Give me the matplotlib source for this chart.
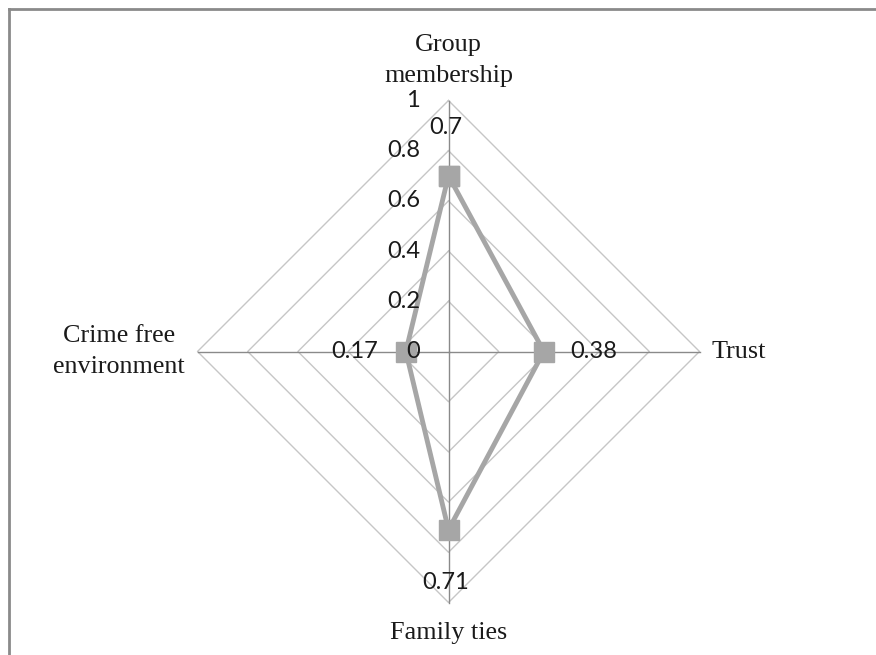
import numpy as np
import matplotlib
matplotlib.use("Agg")
import matplotlib.pyplot as plt
from matplotlib.lines import Line2D

categories = ["Group\nmembership", "Trust", "Family ties", "Crime free\nenvironment"]
values = [0.70, 0.38, 0.71, 0.17]
value_labels = ["0.7", "0.38", "0.71", "0.17"]
ring_levels = [0.2, 0.4, 0.6, 0.8, 1.0]
tick_labels = ["0", "0.2", "0.4", "0.6", "0.8", "1"]

W, H, DPI = 876, 655, 100
fig = plt.figure(figsize=(W / DPI, H / DPI), dpi=DPI)
fig.patch.set_facecolor("white")

cx, cy, R = 448.5, 351.5, 251.0
ax = fig.add_axes([0, 0, 1, 1])
ax.set_xlim(-cx / R, (W - cx) / R)
ax.set_ylim(-(H - cy) / R, cy / R)
ax.axis("off")

angles = np.pi / 2 - np.arange(len(categories)) * 2 * np.pi / len(categories)
cosA, sinA = np.cos(angles), np.sin(angles)

# rings
for lv in ring_levels:
    xs = np.append(lv * cosA, lv * cosA[0])
    ys = np.append(lv * sinA, lv * sinA[0])
    ax.plot(xs, ys, color="#c6c6c6", lw=1.0, zorder=1)
# spokes
for c, s in zip(cosA, sinA):
    ax.plot([0, c], [0, s], color="#8a8a8a", lw=1.0, zorder=2)

# data
xs = np.array(values) * cosA
ys = np.array(values) * sinA
ax.plot(np.append(xs, xs[0]), np.append(ys, ys[0]), color="#a6a6a6", lw=3.5,
        marker="s", markersize=14, markerfacecolor="#a6a6a6", markeredgecolor="#a6a6a6",
        zorder=4, solid_joinstyle="round")

# tick labels along top axis (drawn above the series)
tick_vals = [0.0] + ring_levels
for tv, tl in zip(tick_vals, tick_labels):
    ax.annotate(tl, (0, tv), xytext=(-20.5, 0), textcoords="offset points",
                ha="right", va="center", fontsize=17, family="Lato", color="#1a1a1a",
                zorder=6)

offsets = [((-2, 35), "center", "center"), ((19, 0), "left", "center"),
           ((-2, -38), "center", "center"), ((-20, 0), "right", "center")]
for x, y, lab, (off, ha, va) in zip(xs, ys, value_labels, offsets):
    ax.annotate(lab, (x, y), xytext=off, textcoords="offset points",
                ha=ha, va=va, fontsize=17, family="Lato", color="#1a1a1a", zorder=6)

# category labels
cat_pos = [((0, 10), "center", "bottom"), ((9, 0), "left", "center"),
           ((0, -14), "center", "top"), ((-9, 0), "right", "center")]
for c, s, lab, (off, ha, va) in zip(cosA, sinA, categories, cat_pos):
    ax.annotate(lab, (c, s), xytext=off, textcoords="offset points",
                ha=ha, va=va, multialignment="center", fontsize=18.8,
                family="Liberation Serif", color="#1a1a1a", linespacing=1.5)

# partial border (top and left visible)
fig.add_artist(Line2D([8.5 / W, 1], [1 - 8.5 / H, 1 - 8.5 / H], color="#8a8a8a", lw=2.0,
                      transform=fig.transFigure))
fig.add_artist(Line2D([8.5 / W, 8.5 / W], [0, 1 - 8.5 / H], color="#8a8a8a", lw=2.0,
                      transform=fig.transFigure))

fig.savefig("out.png", dpi=DPI, facecolor="white")
